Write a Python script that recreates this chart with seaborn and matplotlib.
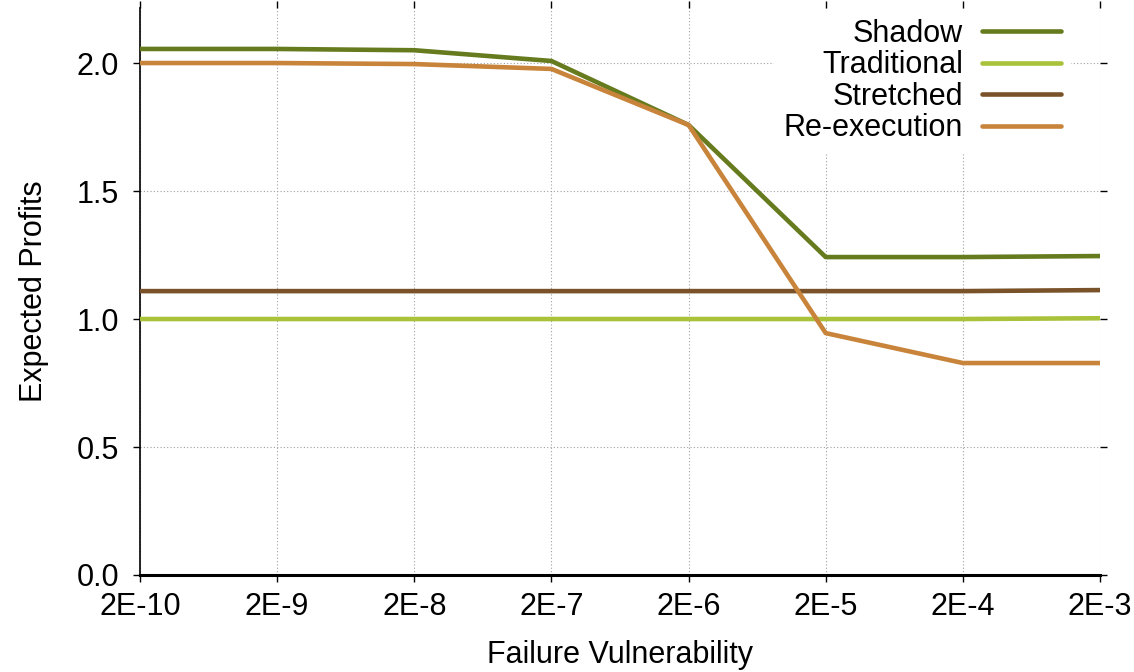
import matplotlib
matplotlib.use("Agg")
import matplotlib.pyplot as plt
import seaborn as sns
import pandas as pd

categories = ["2E-10", "2E-9", "2E-8", "2E-7", "2E-6", "2E-5", "2E-4", "2E-3"]
shadow = [2.055, 2.055, 2.050, 2.008, 1.758, 1.242, 1.242, 1.246]
traditional = [1.0, 1.0, 1.0, 1.0, 1.0, 1.0, 1.0, 1.003]
stretched = [1.109, 1.109, 1.109, 1.109, 1.109, 1.109, 1.109, 1.113]
reexecution = [2.0, 2.0, 1.996, 1.977, 1.758, 0.945, 0.828, 0.828]
series_names = ["Shadow", "Traditional", "Stretched", "Re-execution"]
colors = ["#667a1e", "#a8c23a", "#7a5229", "#c8843a"]
yticks = [0.0, 0.5, 1.0, 1.5, 2.0]

sns.set_theme(style="white")
plt.rcParams["font.family"] = ["Liberation Sans", "DejaVu Sans"]
plt.rcParams["text.color"] = "black"

rows = []
for name, vals in zip(series_names, [shadow, traditional, stretched, reexecution]):
    for i, v in enumerate(vals):
        rows.append({"x": i, "y": v, "series": name})
df = pd.DataFrame(rows)

fig = plt.figure(figsize=(11.34, 6.72), dpi=100)
ax = fig.add_axes([140 / 1134, 1 - 575 / 672, 960 / 1134, 567 / 672])

sns.lineplot(data=df, x="x", y="y", hue="series", hue_order=series_names,
             palette=colors, linewidth=3.3, ax=ax, legend=True, zorder=3)

ax.set_xlim(0, len(categories) - 1)
ax.set_ylim(0, 2.215)
ax.set_xticks(range(len(categories)))
ax.set_xticklabels(categories)
ax.set_yticks(yticks)
ax.set_yticklabels([f"{t:.1f}" for t in yticks])

ax.grid(True, linestyle=(0, (1, 2)), color="#a0a0a0", linewidth=0.8, zorder=0)
ax.set_axisbelow(True)

for s in ["top", "right"]:
    ax.spines[s].set_visible(False)
ax.spines["left"].set_color("black")
ax.spines["left"].set_linewidth(1.2)
ax.spines["bottom"].set_color("black")
ax.spines["bottom"].set_linewidth(2.2)

ax.tick_params(axis="both", which="major", direction="out", length=5, width=1,
               color="black", labelsize=22, labelcolor="black",
               top=True, right=True, left=True, bottom=True)
ax.tick_params(axis="y", pad=10)
ax.tick_params(axis="x", pad=7)

ax.set_xlabel("Failure Vulnerability", fontsize=22, color="black", labelpad=13)
ax.set_ylabel("Expected Profits", fontsize=22, color="black", labelpad=20)

handles, labels = ax.get_legend_handles_labels()
leg = ax.legend(handles, labels, loc="upper right", bbox_to_anchor=(0.985, 1.024),
                markerfirst=False, frameon=True, fontsize=22, handlelength=2.6,
                handletextpad=0.62, labelspacing=0.05, borderpad=0.3,
                fancybox=False, framealpha=1.0)
leg.get_frame().set_edgecolor("white")
leg.get_frame().set_facecolor("white")
leg.set_zorder(2)
for line in leg.get_lines():
    line.set_linewidth(3.3)
for t in leg.get_texts():
    t.set_color("black")

fig.savefig("out.png", dpi=100)
